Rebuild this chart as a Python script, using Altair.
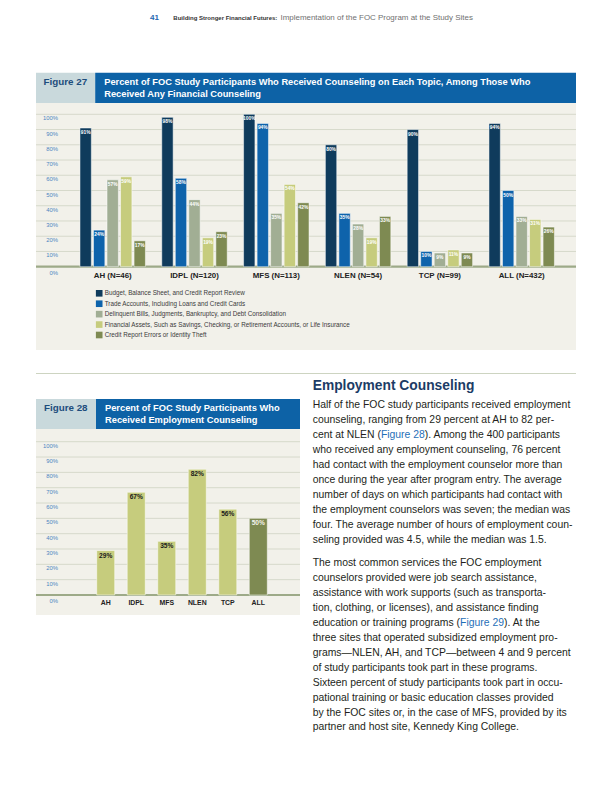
import re
import altair as alt
import pandas as pd

# ---------------- data ----------------
sites27 = ["AH (N=46)", "IDPL (N=120)", "MFS (N=113)", "NLEN (N=54)", "TCP (N=99)", "ALL (N=432)"]
topics27 = [
    "Budget, Balance Sheet, and Credit Report Review",
    "Trade Accounts, Including Loans and Credit Cards",
    "Delinquent Bills, Judgments, Bankruptcy, and Debt Consolidation",
    "Financial Assets, Such as Savings, Checking, or Retirement Accounts, or Life Insurance",
    "Credit Report Errors or Identity Theft",
]
budget = [91, 98, 100, 80, 90, 94]
trade = [24, 58, 94, 35, 10, 50]
delinquent = [57, 44, 35, 28, 9, 33]
assets = [59, 19, 54, 19, 11, 31]
errors = [17, 23, 42, 33, 9, 26]

sites28 = ["AH", "IDPL", "MFS", "NLEN", "TCP", "ALL"]
employment = [29, 67, 35, 82, 56, 50]

ticks = [0, 10, 20, 30, 40, 50, 60, 70, 80, 90, 100]

header_num = "41"
header_bold = "Building Stronger Financial Futures:"
header_rest = "Implementation of the FOC Program at the Study Sites"
fig27_label = "Figure 27"
fig27_title = ["Percent of FOC Study Participants Who Received Counseling on Each Topic, Among Those Who",
               "Received Any Financial Counseling"]
fig28_label = "Figure 28"
fig28_title = ["Percent of FOC Study Participants Who", "Received Employment Counseling"]
heading = "Employment Counseling"
para1 = [
    "Half of the FOC study participants received employment",
    "counseling, ranging from 29 percent at AH to 82 per-",
    "cent at NLEN (Figure 28). Among the 400 participants",
    "who received any employment counseling, 76 percent",
    "had contact with the employment counselor more than",
    "once during the year after program entry. The average",
    "number of days on which participants had contact with",
    "the employment counselors was seven; the median was",
    "four. The average number of hours of employment coun-",
    "seling provided was 4.5, while the median was 1.5.",
]
para2 = [
    "The most common services the FOC employment",
    "counselors provided were job search assistance,",
    "assistance with work supports (such as transporta-",
    "tion, clothing, or licenses), and assistance finding",
    "education or training programs (Figure 29). At the",
    "three sites that operated subsidized employment pro-",
    "grams\u2014NLEN, AH, and TCP\u2014between 4 and 9 percent",
    "of study participants took part in these programs.",
    "Sixteen percent of study participants took part in occu-",
    "pational training or basic education classes provided",
    "by the FOC sites or, in the case of MFS, provided by its",
    "partner and host site, Kennedy King College.",
]

# ---------------- style ----------------
SANS = "Liberation Sans, Arial, Helvetica, sans-serif"
BEIGE = "#f2f1ea"
LABELBOX = "#c9d9dc"
BLUE = "#0d62a6"
NAVYTXT = "#1d4d7c"
GRID = "#d6d9cb"
BASE = "#9daa88"
TICKC = "#4d86c2"
TEXTC = "#231f20"
LINKC = "#1f6fb8"
colors27 = ["#0f3b5c", "#0e63ab", "#a1ae94", "#c6cc7d", "#7e8a52"]
LIGHT = "#c6cc7d"
OLIVE = "#7e8a52"

ARIAL = {" ": 278, "(": 333, ")": 333, ",": 278, ".": 278, "-": 333, ";": 278, ":": 278,
         "A": 667, "B": 667, "C": 722, "D": 722, "E": 667, "F": 611, "G": 778, "H": 722, "I": 278,
         "J": 500, "K": 667, "L": 556, "M": 833, "N": 722, "O": 778, "P": 667, "R": 722, "S": 667,
         "T": 611, "U": 722, "W": 944, "a": 556, "b": 556, "c": 500, "d": 556, "e": 556, "f": 278,
         "g": 556, "h": 556, "i": 222, "j": 222, "k": 500, "l": 222, "m": 833, "n": 556, "o": 556,
         "p": 556, "q": 556, "r": 333, "s": 500, "t": 278, "u": 556, "v": 500, "w": 722, "x": 500,
         "y": 500, "z": 500}


def tw(s, size):
    return sum(ARIAL.get(ch, 556) for ch in s) * size / 1000.0


def P(v):
    return v - 8


def one():
    return alt.Chart(alt.Data(values=[{"k": 0}]))


def rect(x1, y1, x2, y2, color):
    return one().mark_rect(color=color).encode(
        x=alt.value(P(x1)), x2=alt.value(P(x2)), y=alt.value(P(y1)), y2=alt.value(P(y2)))


def hrule(x1, x2, y, color, w):
    return one().mark_rule(color=color, strokeWidth=w).encode(
        x=alt.value(P(x1)), x2=alt.value(P(x2)), y=alt.value(P(y)))


def label(txt, x, y, size, color, weight="normal", font=SANS, align="left", baseline="middle"):
    return one().mark_text(text=txt, align=align, baseline=baseline, fontSize=size,
                           color=color, fontWeight=weight, font=font).encode(
        x=alt.value(P(x)), y=alt.value(P(y)))


layers = []

# page background panels
layers += [
    rect(36, 72.7, 95.2, 103, LABELBOX),
    rect(95.2, 72.7, 576, 103, BLUE),
    rect(36, 103, 576, 350, BEIGE),
    rect(36, 399, 96, 429, LABELBOX),
    rect(96, 399, 300, 429, BLUE),
    rect(36, 429, 300, 615, BEIGE),
    hrule(36, 576, 373.5, "#cdd4c1", 1),
]

# header
layers += [
    label(header_num, 150, 18, 8, "#1f67b1", "bold"),
    label(header_bold, 173.3, 18, 6.0, "#333333", "bold"),
    label(header_rest, 280.5, 18, 7.95, "#707070"),
]

# figure titles
layers.append(label(fig27_label, 43.6, 81.7, 9.8, NAVYTXT, "bold"))
for i, line in enumerate(fig27_title):
    layers.append(label(line, 104.2, 81.7 + 12.7 * i, 9.3, "white", "bold"))
layers.append(label(fig28_label, 44, 408.3, 9.8, NAVYTXT, "bold"))
for i, line in enumerate(fig28_title):
    layers.append(label(line, 105, 408.3 + 11.9 * i, 9.3, "white", "bold"))

# ---------------- Figure 27 ----------------
rows = []
for s_i, site in enumerate(sites27):
    for t, vals in zip(topics27, [budget, trade, delinquent, assets, errors]):
        rows.append({"site": site, "topic": t, "value": vals[s_i], "lbl": f"{vals[s_i]}%"})
df27 = pd.DataFrame(rows)
grid_df = pd.DataFrame({"t": ticks, "lbl": [f"{t}%" for t in ticks]})

x27 = alt.Scale(type="band", domain=sites27, range=[P(71.8), P(562.6)], paddingInner=0.2, paddingOuter=0.1)
xo27 = alt.Scale(type="band", domain=topics27, paddingInner=0.16, paddingOuter=0)
y27 = alt.Scale(domain=[0, 100], range=[P(266.7), P(114.3)], nice=False)
c27 = alt.Scale(domain=topics27, range=colors27)

g27 = alt.Chart(grid_df).transform_filter("datum.t > 0").mark_rule(color=GRID, strokeWidth=1).encode(
    y=alt.Y("t:Q", scale=y27, axis=None), x=alt.value(P(36)), x2=alt.value(P(576)))
b27 = alt.Chart(grid_df).transform_filter("datum.t == 0").mark_rule(color=BASE, strokeWidth=2.2).encode(
    y=alt.Y("t:Q", scale=y27, axis=None), x=alt.value(P(36)), x2=alt.value(P(576)))
yl27 = alt.Chart(grid_df).transform_filter("datum.t > 0").mark_text(
    align="right", baseline="middle", dy=4, fontSize=5.9, color=TICKC, font=SANS).encode(
    y=alt.Y("t:Q", scale=y27, axis=None), x=alt.value(P(58)), text="lbl:N")
yl27z = alt.Chart(grid_df).transform_filter("datum.t == 0").mark_text(
    align="right", baseline="middle", dy=6.5, fontSize=5.9, color=TICKC, font=SANS).encode(
    y=alt.Y("t:Q", scale=y27, axis=None), x=alt.value(P(58)), text="lbl:N")
bars27 = alt.Chart(df27).mark_bar(stroke="white", strokeWidth=0.5).encode(
    x=alt.X("site:N", scale=x27, axis=None),
    xOffset=alt.XOffset("topic:N", scale=xo27),
    y=alt.Y("value:Q", scale=y27, axis=None),
    color=alt.Color("topic:N", scale=c27, legend=None))
vl27 = alt.Chart(df27).mark_text(baseline="middle", dy=5, fontSize=4.9, fontWeight="bold",
                                 color="white", font=SANS).encode(
    x=alt.X("site:N", scale=x27, axis=None),
    xOffset=alt.XOffset("topic:N", scale=xo27),
    y=alt.Y("value:Q", scale=y27, axis=None),
    text="lbl:N")
sl27 = alt.Chart(pd.DataFrame({"site": sites27})).mark_text(
    baseline="middle", fontSize=7.9, fontWeight="bold", color="#222222", font=SANS).encode(
    x=alt.X("site:N", scale=x27, axis=None), y=alt.value(P(275.5)), text="site:N")
fig27 = alt.layer(g27, b27, bars27, vl27, yl27, yl27z, sl27)

leg_df = pd.DataFrame({"topic": topics27})
ylg = alt.Scale(type="point", domain=topics27, range=[P(293.3), P(335)], padding=0)
leg_sq = alt.Chart(leg_df).mark_square(size=44, opacity=1).encode(
    y=alt.Y("topic:N", scale=ylg, axis=None), x=alt.value(P(99.2)),
    color=alt.Color("topic:N", scale=c27, legend=None))
leg_tx = alt.Chart(leg_df).mark_text(align="left", baseline="middle", fontSize=6.3,
                                     color="#3a3a3a", font=SANS).encode(
    y=alt.Y("topic:N", scale=ylg, axis=None), x=alt.value(P(104.7)), text="topic:N")
legend27 = alt.layer(leg_sq, leg_tx)

# ---------------- Figure 28 ----------------
df28 = pd.DataFrame({"site": sites28, "value": employment, "lbl": [f"{v}%" for v in employment]})
x28 = alt.Scale(type="band", domain=sites28, range=[P(90.45), P(273.55)], paddingInner=0.41, paddingOuter=0.205)
y28 = alt.Scale(domain=[0, 100], range=[P(595), P(441.7)], nice=False)

g28 = alt.Chart(grid_df).transform_filter("datum.t > 0").mark_rule(color=GRID, strokeWidth=1).encode(
    y=alt.Y("t:Q", scale=y28, axis=None), x=alt.value(P(36)), x2=alt.value(P(300)))
b28 = alt.Chart(grid_df).transform_filter("datum.t == 0").mark_rule(color=BASE, strokeWidth=2.2).encode(
    y=alt.Y("t:Q", scale=y28, axis=None), x=alt.value(P(36)), x2=alt.value(P(300)))
yl28 = alt.Chart(grid_df).transform_filter("datum.t > 0").mark_text(
    align="right", baseline="middle", dy=4, fontSize=5.9, color=TICKC, font=SANS).encode(
    y=alt.Y("t:Q", scale=y28, axis=None), x=alt.value(P(58)), text="lbl:N")
yl28z = alt.Chart(grid_df).transform_filter("datum.t == 0").mark_text(
    align="right", baseline="middle", dy=6, fontSize=5.9, color=TICKC, font=SANS).encode(
    y=alt.Y("t:Q", scale=y28, axis=None), x=alt.value(P(58)), text="lbl:N")
bars28 = alt.Chart(df28).mark_bar(stroke="white", strokeWidth=0.5).encode(
    x=alt.X("site:N", scale=x28, axis=None),
    y=alt.Y("value:Q", scale=y28, axis=None),
    color=alt.condition(alt.datum.site == "ALL", alt.value(OLIVE), alt.value(LIGHT)))
vl28 = alt.Chart(df28).mark_text(baseline="middle", dy=5, fontSize=6.6, fontWeight="bold", font=SANS).encode(
    x=alt.X("site:N", scale=x28, axis=None),
    y=alt.Y("value:Q", scale=y28, axis=None),
    text="lbl:N",
    color=alt.condition(alt.datum.site == "ALL", alt.value("#f4f4ec"), alt.value("#1a1a1a")))
sl28 = alt.Chart(df28).mark_text(baseline="middle", fontSize=6.9, fontWeight="bold",
                                 color="#222222", font=SANS).encode(
    x=alt.X("site:N", scale=x28, axis=None), y=alt.value(P(602.5)), text="site:N")
fig28 = alt.layer(g28, b28, bars28, vl28, yl28, yl28z, sl28)

# ---------------- body text ----------------
layers.append(label(heading, 312.7, 389.5, 13.8, "#1c3c66", "bold", SANS, baseline="alphabetic"))

BODY = 10.4


def body_line(line, x, y):
    out = []
    m = re.search(r"Figure \d+", line)
    if not m:
        out.append(label(line, x, y, BODY, TEXTC))
        return out
    pre, link, post = line[:m.start()], m.group(0), line[m.end():]
    out.append(label(pre, x, y, BODY, TEXTC))
    x2 = x + tw(pre, BODY)
    out.append(label(link, x2, y, BODY, LINKC))
    x3 = x2 + tw(link, BODY)
    out.append(label(post, x3, y, BODY, TEXTC))
    return out


for i, line in enumerate(para1):
    layers += body_line(line, 312.7, 404.6 + 15.0 * i)
for i, line in enumerate(para2):
    layers += body_line(line, 312.7, 563.0 + 14.95 * i)

chart = alt.layer(*layers, fig27, legend27, fig28).resolve_scale(
    x="independent", y="independent", color="independent", xOffset="independent"
).properties(
    width=596, height=776, autosize=alt.AutoSizeParams(type="none"), padding=0, background="white"
).configure_view(stroke=None)

chart.save("out.html", embed_options={"renderer": "svg", "actions": False})
